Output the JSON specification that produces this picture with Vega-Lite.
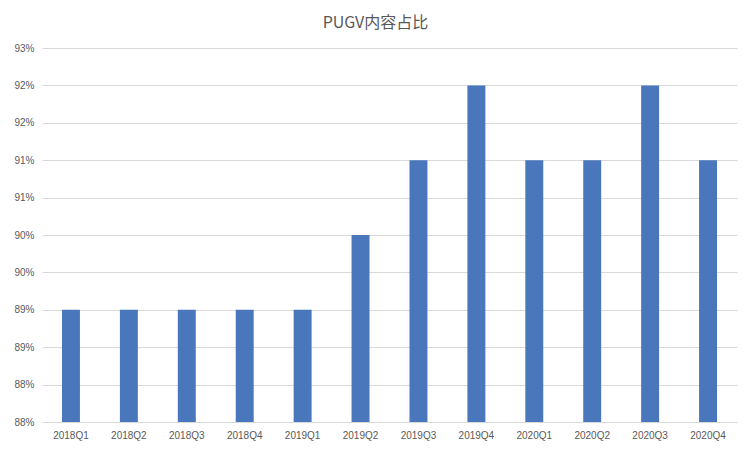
{
  "$schema": "https://vega.github.io/schema/vega-lite/v6.json",
  "width": 695,
  "height": 374,
  "autosize": {"type": "none"},
  "padding": {"left": 42, "top": 48, "right": 15, "bottom": 33},
  "background": "white",
  "title": {
    "text": "PUGV内容占比",
    "font": "Noto Sans CJK SC",
    "fontSize": 16,
    "fontWeight": "normal",
    "color": "#595959",
    "anchor": "middle",
    "offset": 12,
    "dx": -14
  },
  "config": {
    "view": {"stroke": null},
    "axis": {"labelFont": "Liberation Sans", "labelFontSize": 10, "labelColor": "#595959", "domain": false, "ticks": false}
  },
  "data": {
    "values": [
      {"quarter": "2018Q1", "share": 0.895},
      {"quarter": "2018Q2", "share": 0.895},
      {"quarter": "2018Q3", "share": 0.895},
      {"quarter": "2018Q4", "share": 0.895},
      {"quarter": "2019Q1", "share": 0.895},
      {"quarter": "2019Q2", "share": 0.905},
      {"quarter": "2019Q3", "share": 0.915},
      {"quarter": "2019Q4", "share": 0.925},
      {"quarter": "2020Q1", "share": 0.915},
      {"quarter": "2020Q2", "share": 0.915},
      {"quarter": "2020Q3", "share": 0.925},
      {"quarter": "2020Q4", "share": 0.915}
    ]
  },
  "mark": {"type": "bar", "color": "#4a76bc", "clip": true},
  "encoding": {
    "x": {
      "field": "quarter",
      "type": "nominal",
      "sort": null,
      "title": null,
      "scale": {"paddingInner": 0.69, "paddingOuter": 0.345},
      "axis": {"labelAngle": 0, "labelPadding": 8, "grid": false}
    },
    "y": {
      "field": "share",
      "type": "quantitative",
      "title": null,
      "scale": {"domain": [0.88, 0.93], "zero": false, "nice": false},
      "axis": {
        "values": [0.88, 0.885, 0.89, 0.895, 0.9, 0.905, 0.91, 0.915, 0.92, 0.925, 0.93],
        "labelExpr": "floor(datum.value * 100 + 0.0001) + '%'",
        "labelPadding": 8,
        "grid": true,
        "gridColor": "#d9d9d9",
        "gridWidth": 1
      }
    }
  }
}
